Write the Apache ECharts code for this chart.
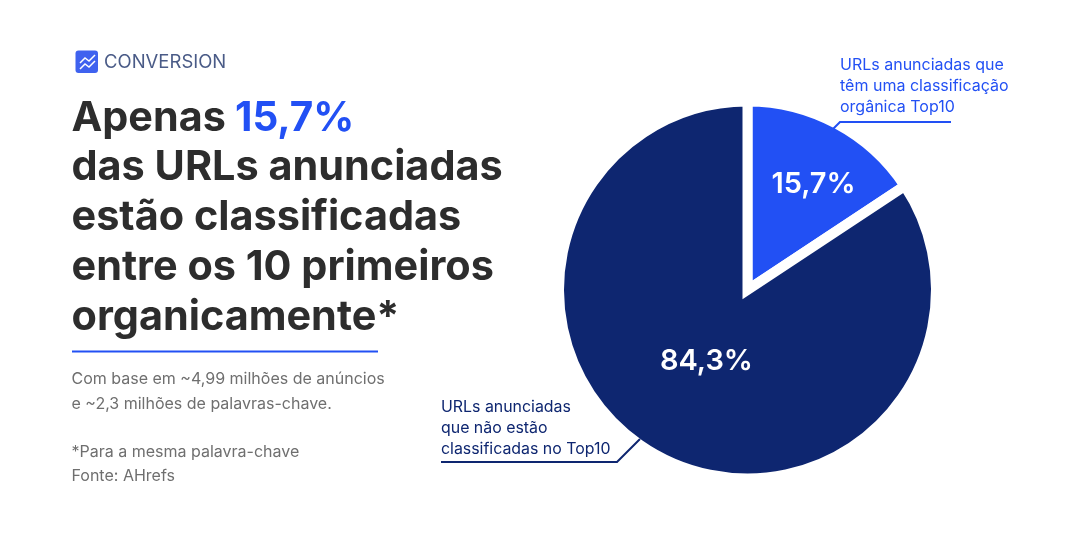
<!DOCTYPE html>
<html><head><meta charset="utf-8">
<style>html,body{margin:0;padding:0;background:#fff}#c{width:1080px;height:540px}</style>
<script src="https://cdn.jsdelivr.net/npm/echarts@6/dist/echarts.min.js"></script>
</head><body><div id="c"></div>
<script>
const categories = ['URLs anunciadas que têm uma classificação orgânica Top10', 'URLs anunciadas que não estão classificadas no Top10'];
const values = [15.7, 84.3];
const valueLabels = ['15,7%', '84,3%'];
const titleLines = ['das URLs anunciadas', 'estão classificadas', 'entre os 10 primeiros', 'organicamente*'];
const noteLines = ['Com base em ~4,99 milhões de anúncios', 'e ~2,3 milhões de palavras-chave.', '', '*Para a mesma palavra-chave', 'Fonte: AHrefs'];
const blue = '#2250f4', navy = '#0e2670', F = 'Inter';
const labelNudge = [[20, -20], [5, -14]];

const T = (x, y, text, size, fill, weight) => ({type:'text', x, y, silent:true, z:10,
  style:{x:0,y:0,text, font:`${weight||400} ${size}px ${F}`, fill, textVerticalAlign:'middle', textBaseline:'middle'}});
const L = (points, stroke) => ({type:'polyline', z:10, shape:{points}, style:{stroke,lineWidth:2,fill:null}});
const graphics = [
  {type:'rect', shape:{x:75.5,y:50.5,width:22.5,height:22.5,r:3}, style:{fill:'#3f62ef'}},
  {type:'polyline', z:10, shape:{points:[[80,63],[85,58],[89,61],[95,55]]}, style:{stroke:'#fff',lineWidth:1.5,fill:null}},
  {type:'polyline', z:10, shape:{points:[[80,69],[85,64],[89,67],[95,61]]}, style:{stroke:'#fff',lineWidth:1.5,fill:null}},
  T(104,62,'CONVERSION',18.5,'#4a5b87',400),
  T(71.5,118.5,'Apenas',41.3,'#2d2d2d',700),
  T(235,118.5,'15,7%',40.4,blue,700),
  ...titleLines.map((t,i)=>T(71.5,168+i*49.7,t,41.4,'#2d2d2d',700)),
  {type:'line', z:10, shape:{x1:72,y1:351.5,x2:378,y2:351.5}, style:{stroke:blue,lineWidth:2}},
  ...noteLines.map((t,i)=>T(71.5,379.5+i*24.2,t,16,'#6f6f6f',400)),
  ...['URLs anunciadas que','têm uma classificação','orgânica Top10'].map((t,i)=>T(840,65.5+i*21,t,16,blue,400)),
  L([[833,129],[840,122],[951,122]], blue),
  ...['URLs anunciadas','que não estão','classificadas no Top10'].map((t,i)=>T(441,407.5+i*21,t,15.9,navy,400)),
  L([[441,462],[617,462],[640,439]], navy),
];
const chart = echarts.init(document.getElementById('c'), null, {renderer:'canvas'});
chart.setOption({
  animation:false, backgroundColor:'#fff',
  series:[{type:'pie', center:[747.5,290], radius:[0,188.5], startAngle:90, clockwise:true, silent:true,
    itemStyle:{borderColor:'#fff',borderWidth:10,borderJoin:'miter',borderMiterLimit:10},
    label:{show:true, position:'inside', formatter:p=>valueLabels[p.dataIndex], color:'#fff', fontFamily:F, fontSize:29, fontWeight:600},
    labelLine:{show:false},
    labelLayout:p=>({dx:labelNudge[p.dataIndex][0],dy:labelNudge[p.dataIndex][1]}),
    data:categories.map((name,i)=>({name,value:values[i],itemStyle:{color:i?navy:blue}}))
  }],
  graphic:graphics
});
</script></body></html>
